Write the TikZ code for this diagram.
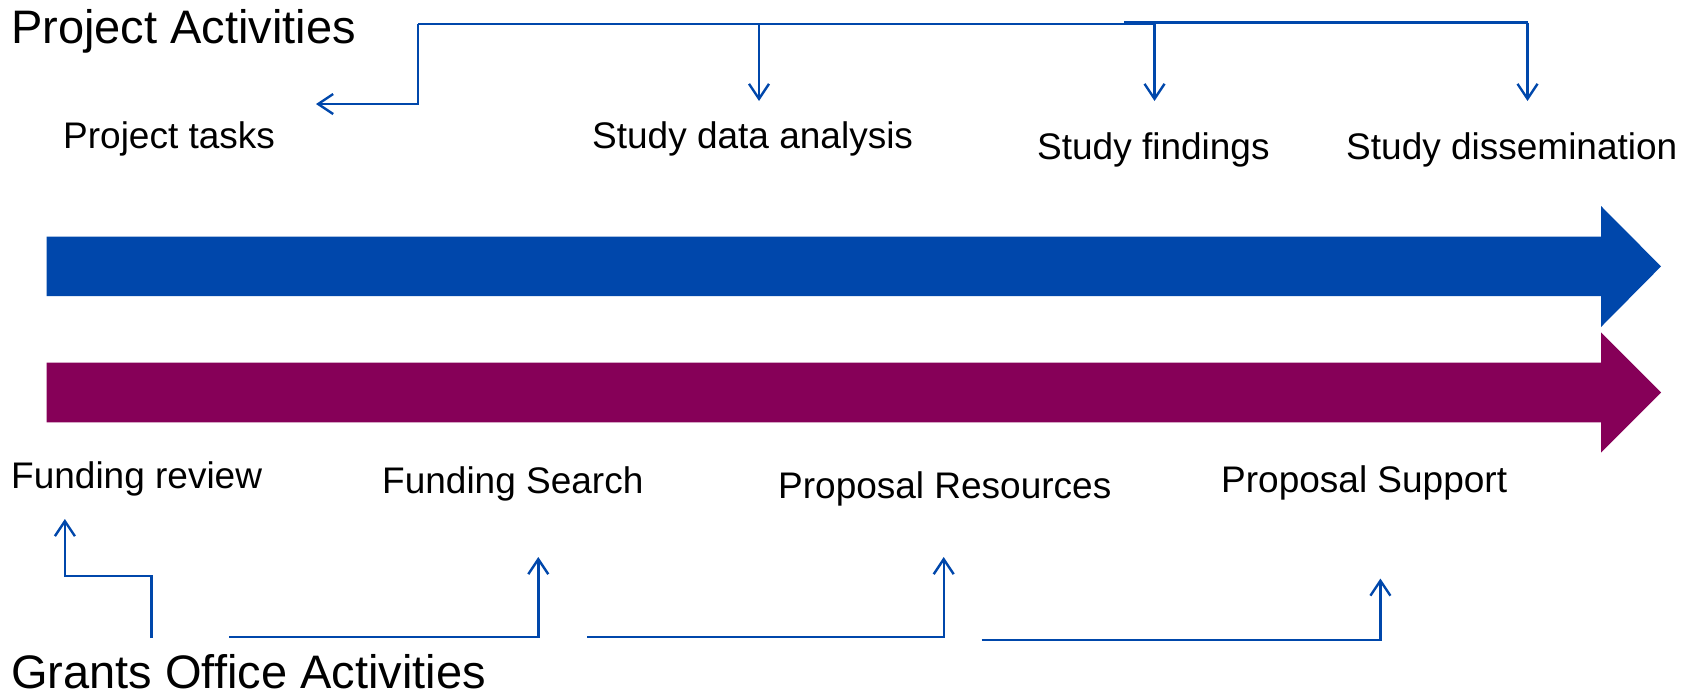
\documentclass[tikz,border=0pt]{standalone}
\usepackage{fontspec}
\setmainfont{Liberation Sans}
\usetikzlibrary{arrows.meta}
\definecolor{arrowblue}{RGB}{0,71,171}
\definecolor{arrowpurple}{RGB}{134,0,88}
\definecolor{linkblue}{RGB}{0,71,171}
\begin{document}
\begin{tikzpicture}[x=1pt,y=-1pt,
  titletext/.style={anchor=base west,inner sep=0pt,font=\fontsize{47}{56}\selectfont},
  labeltext/.style={anchor=base west,inner sep=0pt,font=\fontsize{37}{44}\selectfont},
  link/.style={draw=linkblue,line width=2.4pt,line join=miter,
    -{Straight Barb[length=15pt,width=20pt,line width=2.4pt]}},
  plainlink/.style={draw=linkblue,line width=2.4pt},
]
\useasboundingbox (0,0) rectangle (1695,697);

% big timeline arrows
\fill[arrowblue] (46.5,236.7) -- (1601,236.7) -- (1601,206) -- (1661,266.4)
  -- (1601,327) -- (1601,296) -- (46.5,296) -- cycle;
\fill[arrowpurple] (46.5,362.7) -- (1601,362.7) -- (1601,332.3) -- (1661,392.5)
  -- (1601,452.7) -- (1601,422.3) -- (46.5,422.3) -- cycle;

% titles
\node[titletext] (projact) at (11,43) {Project Activities};
\node[titletext] (grantsact) at (11,688) {Grants Office Activities};

% top labels
\node[labeltext] (tasks) at (63,148) {Project tasks};
\node[labeltext] (analysis) at (592,148) {Study data analysis};
\node[labeltext] (findings) at (1037,159) {Study findings};
\node[labeltext] (dissem) at (1346,159) {Study dissemination};

% bottom labels
\node[labeltext] (review) at (11,488) {Funding review};
\node[labeltext] (search) at (382,493) {Funding Search};
\node[labeltext] (resources) at (778,498) {Proposal Resources};
\node[labeltext] (support) at (1221,492) {Proposal Support};

% top connector coordinates
\coordinate (tA) at (418,24);
\coordinate (tB) at (1154.5,24);
\coordinate (tC) at (1124,22.5);
\coordinate (tD) at (1527.5,22.5);
\coordinate (tasksbend) at (418,104);
\coordinate (taskstip) at (316,104);
\coordinate (analysistop) at (759,24);
\coordinate (analysistip) at (759,101);
\coordinate (findingstip) at (1154.5,101);
\coordinate (dissemtip) at (1527.5,101);

\draw[plainlink] (tA) -- (tB);
\draw[plainlink] (tC) -- (tD);
\draw[link] (tA) -- (tasksbend) -- (taskstip);
\draw[link] (analysistop) -- (analysistip);
\draw[link] (tB) -- (findingstip);
\draw[link] (tD) -- (dissemtip);

% bottom connector coordinates
\coordinate (rS) at (151.3,638);
\coordinate (rB1) at (151.3,576.2);
\coordinate (rB2) at (64.9,576.2);
\coordinate (rT) at (64.9,519);
\coordinate (sS) at (229,636.7);
\coordinate (sB) at (538.3,636.7);
\coordinate (sT) at (538.3,557);
\coordinate (pS) at (587,636.7);
\coordinate (pB) at (943.7,636.7);
\coordinate (pT) at (943.7,557);
\coordinate (uS) at (981.5,640);
\coordinate (uB) at (1380.4,640);
\coordinate (uT) at (1380.4,578.5);

\draw[link] (rS) -- (rB1) -- (rB2) -- (rT);
\draw[link] (sS) -- (sB) -- (sT);
\draw[link] (pS) -- (pB) -- (pT);
\draw[link] (uS) -- (uB) -- (uT);
\end{tikzpicture}
\end{document}
